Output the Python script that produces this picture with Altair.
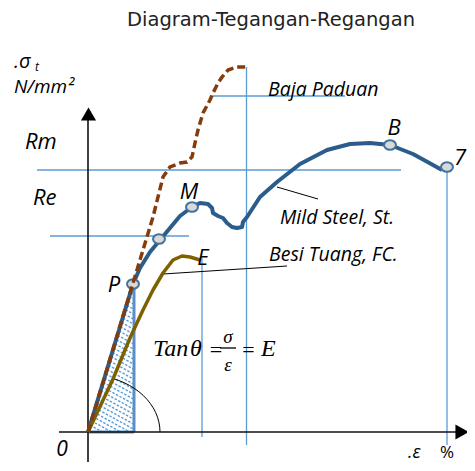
import altair as alt
import pandas as pd
import math

# ---- data (u = strain position, s = stress position; schematic units) ----
mild_u = [0, 45, 52, 62, 72, 82, 92, 104, 112, 120, 124, 125, 130, 135, 139, 144, 149, 154, 155, 159, 172, 189, 212, 239, 262, 282, 302, 325, 345, 354]
mild_s = [0, 148, 164, 180, 192, 204, 216, 225, 229, 228, 224, 219, 216, 214, 209, 205, 204, 205, 210, 215, 235, 250, 268, 282, 288, 289, 287, 278, 267, 262]

baja_u = [0, 45, 55, 65, 75, 82, 92, 99, 104, 107, 110, 115, 122, 125, 130, 134, 140, 149, 159]
baja_s = [0, 149, 182, 215, 255, 265, 269, 270, 275, 289, 302, 319, 332, 339, 349, 355, 362, 365, 365]

besi_u = [0, 25, 42, 55, 65, 75, 85, 94, 102, 112]
besi_s = [0, 53, 94, 122, 142, 159, 172, 176, 175, 172]

pt_names = ["P", "Q", "M", "B", "Z"]
pt_u = [45, 71, 104, 302, 359]
pt_s = [148, 193, 225, 287, 265]

# guide lines: (u1, u2, s1, s2)
guide_u1 = [124, 158.5, -51, -38, 114, 359]
guide_u2 = [257, 158.5, 313, 101, 114, 359]
guide_s1 = [336, 365, 262, 196, 174, 265]
guide_s2 = [336, -13, 262, 196, -5, -13]

leader_u1 = [189, 75]
leader_u2 = [230, 199]
leader_s1 = [245, 158]
leader_s2 = [233, 166]

tri_u = [0, 46, 46]
tri_s = [0, 150, 0]

point_labels = ["P", "M", "E", "B", "7"]
point_label_u = [26, 101, 115, 306, 372]
point_label_s = [147, 240, 174, 304, 274]

curve_labels = ["Baja Paduan", "Mild Steel, St.", "Besi Tuang, FC."]
curve_label_u = [180, 192, 181]
curve_label_s = [342, 214, 177]

XD = [-80, 379]
YD = [-31, 424]

def X(f="u"):
    return alt.X(f"{f}:Q", scale=alt.Scale(domain=XD, nice=False, zero=False), axis=None)

def Y(f="s"):
    return alt.Y(f"{f}:Q", scale=alt.Scale(domain=YD, nice=False, zero=False), axis=None)

def line_df(us, ss):
    return pd.DataFrame({"u": us, "s": ss, "i": list(range(len(us)))})

layers = []

# guide lines
gdf = pd.DataFrame({"u": guide_u1, "u2": guide_u2, "s": guide_s1, "s2": guide_s2})
layers.append(alt.Chart(gdf).mark_rule(color="#5b9bd5", strokeWidth=1.3).encode(
    x=X(), x2="u2:Q", y=Y(), y2="s2:Q"))

# hatching inside the triangle (shallow "\" stripes)
k = tri_s[1] / tri_u[1]
m = 0.55
W = tri_u[1]
hu1, hu2, hs1, hs2 = [], [], [], []
c = 3.0
while c < tri_s[1] + W * m:
    a_u = c / (k + m)
    a_s = k * a_u
    if c - W * m >= 0:
        b_u, b_s = W, c - W * m
    else:
        b_u, b_s = c / m, 0
    hu1.append(a_u); hs1.append(a_s); hu2.append(b_u); hs2.append(b_s)
    c += 5.0
hdf = pd.DataFrame({"u": hu1, "u2": hu2, "s": hs1, "s2": hs2})
layers.append(alt.Chart(hdf).mark_rule(color="#5b9bd5", strokeWidth=1.4, strokeDash=[2.5, 1.5]).encode(
    x=X(), x2="u2:Q", y=Y(), y2="s2:Q"))

# triangle outline (right and bottom edges)
tdf = pd.DataFrame({"u": [tri_u[0], tri_u[2]], "u2": [tri_u[2], tri_u[1]], "s": [tri_s[0], tri_s[2]], "s2": [tri_s[2], tri_s[1]]})
layers.append(alt.Chart(tdf).mark_rule(color="#5b8ec9", strokeWidth=3).encode(
    x=X(), x2="u2:Q", y=Y(), y2="s2:Q"))

# angle arc
arc_u = [72 * math.cos(math.radians(a)) for a in range(0, 71, 5)]
arc_s = [57 * math.sin(math.radians(a)) for a in range(0, 71, 5)]
layers.append(alt.Chart(line_df(arc_u, arc_s)).mark_line(color="black", strokeWidth=1).encode(
    x=X(), y=Y(), order="i:Q"))

# axes
adf = pd.DataFrame({"u": [-29, 0], "u2": [368, 0], "s": [0, -30], "s2": [0, 312]})
layers.append(alt.Chart(adf).mark_rule(color="#111", strokeWidth=1.6).encode(
    x=X(), x2="u2:Q", y=Y(), y2="s2:Q"))
arr = pd.DataFrame({"u": [374, 0.5], "s": [0, 318], "shape": ["triangle-right", "triangle-up"]})
layers.append(alt.Chart(arr).mark_point(filled=True, color="black", opacity=1, size=230).encode(
    x=X(), y=Y(), shape=alt.Shape("shape:N", scale=None)))

# leader lines
ldf = pd.DataFrame({"u": leader_u1, "u2": leader_u2, "s": leader_s1, "s2": leader_s2})
layers.append(alt.Chart(ldf).mark_rule(color="black", strokeWidth=1).encode(
    x=X(), x2="u2:Q", y=Y(), y2="s2:Q"))

# curves
layers.append(alt.Chart(line_df(mild_u, mild_s)).mark_line(color="#2b5d8c", strokeWidth=4, strokeJoin="round").encode(
    x=X(), y=Y(), order="i:Q"))
layers.append(alt.Chart(line_df(besi_u, besi_s)).mark_line(color="#7f6000", strokeWidth=3.5, strokeJoin="round").encode(
    x=X(), y=Y(), order="i:Q"))
layers.append(alt.Chart(pd.DataFrame({"u": pt_u, "s": pt_s, "n": pt_names})).mark_point(
    filled=True, fill="#d9d9d9", stroke="#41719c", strokeWidth=2, opacity=1, size=90,
    shape="M-1.26,0A1.26,1,0,1,0,1.26,0A1.26,1,0,1,0,-1.26,0Z").encode(x=X(), y=Y()))
layers.append(alt.Chart(line_df(baja_u, baja_s)).mark_line(color="#843c0c", strokeWidth=3.5, strokeDash=[8, 4]).encode(
    x=X(), y=Y(), order="i:Q"))

# texts
def txt(df, **kw):
    base = dict(font="Open Sans", color="black", align="left", baseline="middle")
    base.update(kw)
    return alt.Chart(df).mark_text(**base).encode(x=X(), y=Y(), text="t:N")

layers.append(txt(pd.DataFrame({"u": [183], "s": [412], "t": ["Diagram-Tegangan-Regangan"]}),
                  font="DejaVu Sans", fontSize=19.5, align="center", color="#222"))
layers.append(txt(pd.DataFrame({"u": point_label_u, "s": point_label_s, "t": point_labels}),
                  fontSize=22, fontStyle="italic", align="center"))
layers.append(txt(pd.DataFrame({"u": [-63, -55], "s": [290, 234], "t": ["Rm", "Re"]}),
                  fontSize=22, fontStyle="italic"))
layers.append(txt(pd.DataFrame({"u": [-26], "s": [-18], "t": ["0"]}),
                  fontSize=21, fontStyle="italic", align="center"))
layers.append(txt(pd.DataFrame({"u": [-74], "s": [370], "t": [".σ"]}), fontSize=20, fontStyle="italic"))
layers.append(txt(pd.DataFrame({"u": [-53], "s": [365], "t": ["t"]}), fontSize=12, fontStyle="italic"))
layers.append(txt(pd.DataFrame({"u": [-74], "s": [345], "t": ["N/mm²"]}), fontSize=19, fontStyle="italic"))
layers.append(txt(pd.DataFrame({"u": [320], "s": [-21], "t": [".ε"]}), fontSize=18, fontStyle="italic"))
layers.append(txt(pd.DataFrame({"u": [352], "s": [-21], "t": ["%"]}), fontSize=17))
layers.append(txt(pd.DataFrame({"u": curve_label_u, "s": curve_label_s, "t": curve_labels}),
                  fontSize=19.5, fontStyle="italic"))

# formula
layers.append(txt(pd.DataFrame({"u": [65], "s": [83], "t": ["Tan"]}),
                  font="Liberation Serif", fontSize=24, fontStyle="italic"))
layers.append(txt(pd.DataFrame({"u": [108], "s": [83], "t": ["θ"]}),
                  font="Liberation Serif", fontSize=24, fontStyle="italic", align="center"))
layers.append(txt(pd.DataFrame({"u": [128, 160.5], "s": [82, 82], "t": ["=", "="]}),
                  font="Liberation Serif", fontSize=22, align="center"))
layers.append(txt(pd.DataFrame({"u": [140, 140], "s": [95, 67], "t": ["σ", "ε"]}),
                  font="Liberation Serif", fontSize=19, fontStyle="italic", align="center"))
layers.append(alt.Chart(pd.DataFrame({"u": [132], "u2": [148], "s": [84]})).mark_rule(color="black", strokeWidth=1.3).encode(
    x=X(), x2="u2:Q", y=Y()))
layers.append(txt(pd.DataFrame({"u": [173], "s": [83], "t": ["E"]}),
                  font="Liberation Serif", fontSize=24, fontStyle="italic"))

chart = alt.layer(*layers).properties(
    width=459, height=455, padding=0, autosize=alt.AutoSizeParams(type="none"), background="white"
).configure_view(stroke=None)

chart.save("out.html", embed_options={"renderer": "svg", "actions": False})
